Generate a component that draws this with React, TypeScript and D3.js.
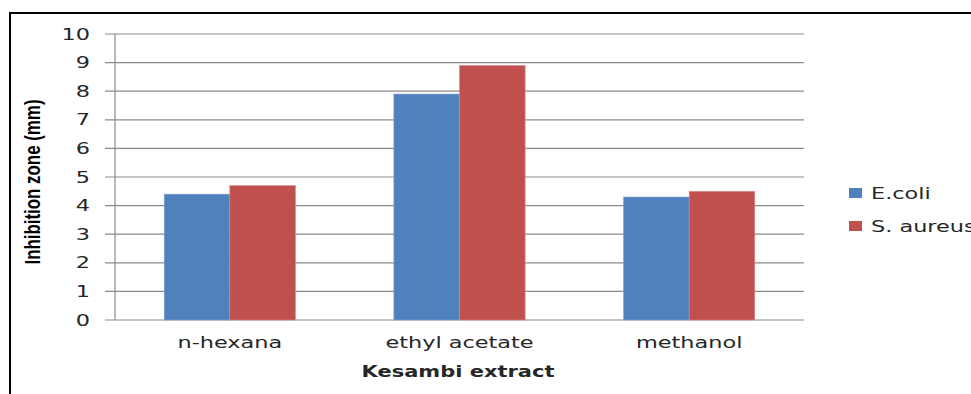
import React from 'react';
import * as d3 from 'd3';

const categories = ['n-hexana', 'ethyl acetate', 'methanol'];
const seriesNames = ['E.coli', 'S. aureus'];
const ecoli = [4.4, 7.9, 4.3];
const saureus = [4.7, 8.9, 4.5];
const yTicks = [0, 1, 2, 3, 4, 5, 6, 7, 8, 9, 10];
const colors = ['#4F81BD', '#C0504D'];

const W = 971;
const H = 394;
const plot = { left: 115, right: 804, top: 34, bottom: 320 };
const SX = 1.4; // the picture is stretched sideways
const font = '"DejaVu Sans", Verdana, sans-serif';

// text stretched horizontally around its anchor
const Txt: React.FC<{ x: number; y: number; anchor?: string; size?: number; weight?: string; fam?: string; children: React.ReactNode }> =
  ({ x, y, anchor = 'start', size = 16, weight = 'normal', fam = font, children }) => (
    <text transform={`translate(${x},${y}) scale(${SX},1)`} textAnchor={anchor}
      fontFamily={fam} fontSize={size} fontWeight={weight} fill="#262626">{children}</text>
  );

const App: React.FC = () => {
  const y = d3.scaleLinear().domain([0, 10]).range([plot.bottom, plot.top]);
  const x0 = d3.scaleBand<string>().domain(categories).range([plot.left, plot.right]).paddingInner(0.75 / 1.75).paddingOuter(0.75 / 3.5);
  const x1 = d3.scaleBand<string>().domain(seriesNames).range([0, x0.bandwidth()]);
  const series = [ecoli, saureus];

  return (
    <svg width={W} height={H} style={{ position: 'absolute', left: 0, top: 0, background: '#fff' }}>
      <rect x={10} y={13} width={W + 20} height={H + 20} fill="#fff" stroke="#000" strokeWidth={2} />

      {/* gridlines and y ticks */}
      {yTicks.map(t => (
        <g key={t}>
          <line x1={105} x2={plot.right} y1={y(t)} y2={y(t)} stroke="#8c8c8c" strokeWidth={1.2} />
          <Txt x={90} y={y(t) + 5.5} anchor="end">{t}</Txt>
        </g>
      ))}
      <line x1={plot.left} x2={plot.left} y1={plot.top} y2={plot.bottom} stroke="#8c8c8c" strokeWidth={1.2} />

      {/* bars */}
      {series.map((vals, si) => (
        <g key={si}>
          {vals.map((v, ci) => (
            <rect key={ci}
              x={(x0(categories[ci]) ?? 0) + (x1(seriesNames[si]) ?? 0)}
              y={y(v)} width={x1.bandwidth()} height={y(0) - y(v)}
              fill={colors[si]} stroke={si === 0 ? '#7fa1cf' : '#d98a88'} strokeWidth={0.6} />
          ))}
        </g>
      ))}

      {/* category labels */}
      {categories.map(c => (
        <Txt key={c} x={(x0(c) ?? 0) + x0.bandwidth() / 2} y={348} anchor="middle">{c}</Txt>
      ))}

      <Txt x={458} y={377} anchor="middle" size={15} weight="bold">Kesambi extract</Txt>

      <text transform={`translate(40,182) scale(${SX},1) rotate(-90)`} textAnchor="middle"
        fontFamily='"Liberation Sans Narrow", "Arial Narrow", sans-serif' fontWeight="bold" fontSize={16}
        textLength={165} lengthAdjust="spacingAndGlyphs" fill="#000">Inhibition zone (mm)</text>

      {/* legend */}
      {seriesNames.map((s, i) => (
        <g key={s}>
          <rect x={849} y={188 + i * 33} width={13} height={10} fill={colors[i]} />
          <Txt x={871} y={198.5 + i * 33}>{s}</Txt>
        </g>
      ))}
    </svg>
  );
};

export default App;
